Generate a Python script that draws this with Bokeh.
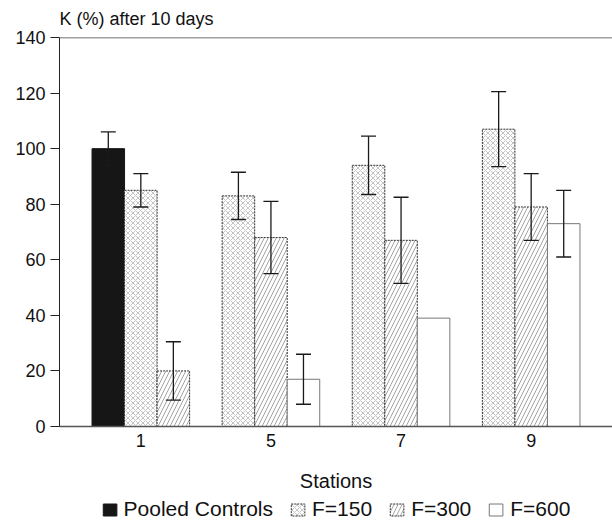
from bokeh.plotting import figure
from bokeh.layouts import column
from bokeh.models import (ColumnDataSource, FactorRange, Range1d, Whisker, TeeHead, Span,
                          Legend, LegendItem, FixedTicker)
from bokeh.embed import file_html
from bokeh.resources import INLINE

# ---- data ----
stations = ["1", "5", "7", "9"]
series_names = ["Pooled Controls", "F=150", "F=300", "F=600"]
controls = [100, None, None, None]
controls_err = [6, None, None, None]
f150 = [85, 83, 94, 107]
f150_err = [6, 8.5, 10.5, 13.5]
f300 = [20, 68, 67, 79]
f300_err = [10.5, 13, 15.5, 12]
f600 = [None, 17, 39, 73]
f600_err = [None, 9, None, 12]
y_ticks = [0, 20, 40, 60, 80, 100, 120, 140]
y_title = "K (%) after 10 days"
x_title = "Stations"

values = {
    "Pooled Controls": (controls, controls_err),
    "F=150": (f150, f150_err),
    "F=300": (f300, f300_err),
    "F=600": (f600, f600_err),
}

styles = {
    "Pooled Controls": dict(fill_color="#161616", line_color="#161616", line_width=1),
    "F=150": dict(fill_color="white", line_color="#333333", line_width=1, line_dash="2 1",
                  hatch_pattern="x", hatch_color="#ababab", hatch_scale=5, hatch_weight=0.7),
    "F=300": dict(fill_color="white", line_color="#333333", line_width=1, line_dash="2 1",
                  hatch_pattern="/", hatch_color="#8c8c8c", hatch_scale=8, hatch_weight=0.8),
    "F=600": dict(fill_color="white", line_color="#777777", line_width=1),
}

FONT = "Liberation Sans"
SLOT = 0.25          # width of one bar slot inside a station's category (layout)

x_range = FactorRange(*stations, factor_padding=0, range_padding=SLOT / 2,
                      range_padding_units="absolute")

p = figure(x_range=x_range, y_range=Range1d(0, 140), width=612, height=494,
           output_backend="svg", toolbar_location=None,
           min_border_left=59, min_border_right=0, min_border_top=37, min_border_bottom=68)

p.title.text = y_title
p.title.align = "left"
p.title.vertical_align = "top"
p.title.text_font = FONT
p.title.text_font_size = "18px"
p.title.text_font_style = "normal"
p.title.text_color = "#111111"
p.title.standoff = 13

for name in series_names:
    vals, errs = values[name]
    xs, ys = [], []
    ex, eu, el = [], [], []
    for i, s in enumerate(stations):
        if vals[i] is None:
            continue
        present = [n for n in series_names if values[n][0][i] is not None]
        slot = present.index(name)
        pos = (s, (slot - (len(present) - 1) / 2) * SLOT)
        xs.append(pos)
        ys.append(vals[i])
        if errs[i] is not None:
            ex.append(pos)
            eu.append(vals[i] + errs[i])
            el.append(vals[i] - errs[i])
    src = ColumnDataSource(dict(x=xs, top=ys))
    p.vbar(x="x", top="top", width=SLOT, bottom=0, source=src, **styles[name])
    if ex:
        esrc = ColumnDataSource(dict(x=ex, upper=eu, lower=el))
        w = Whisker(base="x", upper="upper", lower="lower", source=esrc,
                    line_color="#1a1a1a", line_width=1.3, level="annotation",
                    upper_head=TeeHead(size=15, line_color="#1a1a1a", line_width=1.3),
                    lower_head=TeeHead(size=15, line_color="#1a1a1a", line_width=1.3))
        p.add_layout(w)

# top border line
p.add_layout(Span(location=140, dimension="width", line_color="#444444", line_width=1.5))

p.xgrid.grid_line_color = None
p.ygrid.grid_line_color = None
p.outline_line_color = None
p.background_fill_color = "white"
p.border_fill_color = "white"

# y axis
p.yaxis.ticker = FixedTicker(ticks=y_ticks)
p.yaxis.minor_tick_line_color = None
p.yaxis.major_tick_in = 0
p.yaxis.major_tick_out = 9
p.yaxis.major_tick_line_color = "#222222"
p.yaxis.axis_line_color = "#222222"
p.yaxis.major_label_text_font = FONT
p.yaxis.major_label_text_font_size = "18px"
p.yaxis.major_label_text_color = "#111111"
p.yaxis.major_label_standoff = 5

# x axis
xa = p.xaxis[0]
xa.axis_label = x_title
xa.axis_label_text_font = FONT
xa.axis_label_text_font_size = "20px"
xa.axis_label_text_font_style = "normal"
xa.axis_label_text_color = "#111111"
xa.axis_label_standoff = 20
xa.axis_line_color = "#555555"
xa.axis_line_width = 1.5
xa.major_tick_line_color = None
xa.minor_tick_line_color = None
xa.major_label_text_font = FONT
xa.major_label_text_font_size = "18px"
xa.major_label_text_color = "#111111"
xa.major_label_standoff = 1

# legend strip below the chart (its own small figure, same styles as the bars;
# the legend's renderers hold one bar that lies outside the strip's visible range)
lg = figure(width=612, height=30, x_range=Range1d(0, 1), y_range=Range1d(0, 1),
            output_backend="svg", toolbar_location=None, min_border=0,
            x_axis_location=None, y_axis_location=None)
lg.xgrid.grid_line_color = None
lg.ygrid.grid_line_color = None
lg.outline_line_color = None
items = []
for name in series_names:
    r = lg.vbar(x=[0.5], top=[-5], bottom=[-6], width=0.1, **styles[name])
    items.append(LegendItem(label=name, renderers=[r]))
legend = Legend(items=items, orientation="horizontal", location="center",
                border_line_color=None, background_fill_alpha=0,
                label_text_font=FONT, label_text_font_size="21px",
                label_text_color="#111111",
                glyph_width=17, glyph_height=15, label_standoff=6, spacing=16,
                padding=0, margin=0)
lg.add_layout(legend)

layout = column(p, lg, spacing=0)
open("out.html", "w").write(file_html(layout, INLINE))
